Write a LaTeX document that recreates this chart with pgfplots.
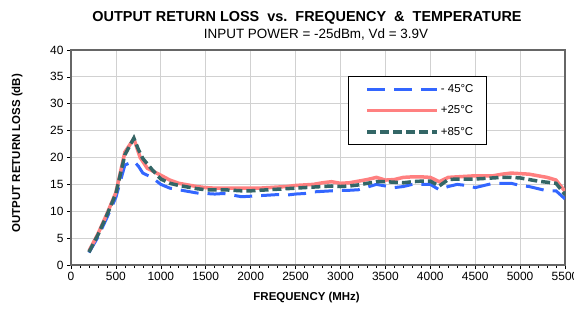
\documentclass[border=0pt]{standalone}
\usepackage{pgfplots}
\pgfplotsset{compat=1.18}
\usepackage{fontspec}
\setmainfont{Liberation Sans}
\definecolor{cblue}{RGB}{51,102,255}
\definecolor{cred}{RGB}{255,128,128}
\definecolor{cgreen}{RGB}{51,102,102}
\begin{document}
\begin{tikzpicture}
\begin{axis}[name=ax, scale only axis, width=494bp, height=215bp,
  xmin=0, xmax=5500, ymin=0, ymax=40,
  xtick={0,500,...,5500}, ytick={0,5,...,40},
  minor x tick num=4,
  grid=major, major grid style={color=black!18, line width=0.8bp},
  axis line style={black!60, line width=1.4bp},
  tick align=outside, xtick pos=bottom, ytick pos=left,
  major tick length=4bp, minor tick length=3bp,
  every tick/.style={black, line width=0.6bp},
  scaled x ticks=false,
  /pgf/number format/set thousands separator={},
  /pgf/number format/assume math mode=true,
  tick label style={font=\fontsize{12}{14}\selectfont},
  xlabel={\textbf{FREQUENCY (MHz)}},
  ylabel={\textbf{OUTPUT RETURN LOSS (dB)}},
  label style={font=\fontsize{11.5}{14}\selectfont},
  xlabel style={at={(axis description cs:0.477,-0.153)}, anchor=center},
  ylabel style={at={(axis description cs:-0.109,0.52)}, anchor=center},
  legend style={at={(0.561,0.879)}, anchor=north west, draw=black, line width=0.6bp,
    font=\fontsize{11.5}{13}\selectfont, row sep=8bp, inner xsep=11bp, inner ysep=6bp},
  legend cell align=left,
  legend image code/.code={\path (-6bp,0bp); \draw[#1] (0bp,0bp) -- (70bp,0bp);},
]
\addplot[cblue, line width=3bp, dash pattern=on 18bp off 9bp] coordinates {
(200,2.3)(300,5.2)(400,8.8)(500,12.6)(600,18.6)(700,19.3)(750,18.4)(800,17.1)(900,16.3)
(1000,15.0)(1100,14.3)(1200,14.0)(1300,13.7)(1400,13.4)(1500,13.3)(1600,13.2)(1700,13.3)
(1800,13.0)(1900,12.7)(2000,12.8)(2100,12.9)(2200,13.0)(2300,13.1)(2400,13.0)(2500,13.2)
(2600,13.3)(2700,13.6)(2800,13.7)(2900,13.8)(3000,13.9)(3100,13.9)(3200,14.0)(3300,14.5)
(3400,15.0)(3500,14.7)(3600,14.4)(3700,14.6)(3800,15.0)(3900,15.0)(4000,15.0)(4100,14.0)
(4200,14.6)(4300,15.0)(4400,14.8)(4500,14.4)(4600,14.8)(4700,15.2)(4800,15.2)(4900,15.2)
(5000,14.8)(5100,14.6)(5200,14.2)(5300,13.8)(5400,13.8)(5500,12.3)};
\addlegendentry{- 45°C}
\addplot[cred, line width=3.5bp] coordinates {
(200,2.6)(300,5.8)(400,9.5)(500,13.5)(600,21.0)(700,23.5)(770,20.0)(850,18.0)(1000,16.7)
(1100,15.8)(1200,15.2)(1300,14.9)(1400,14.6)(1500,14.4)(1600,14.3)(1700,14.3)(1800,14.3)
(1900,14.3)(2000,14.3)(2100,14.3)(2200,14.4)(2300,14.5)(2400,14.6)(2500,14.8)(2600,14.9)
(2700,15.0)(2800,15.3)(2900,15.5)(3000,15.2)(3100,15.3)(3200,15.6)(3300,15.9)(3400,16.3)
(3500,15.8)(3600,15.9)(3700,16.3)(3800,16.4)(3900,16.4)(4000,16.3)(4100,15.5)(4200,16.3)
(4300,16.4)(4400,16.5)(4500,16.6)(4600,16.6)(4700,16.6)(4800,16.9)(4900,17.1)(5000,17.0)
(5100,16.9)(5200,16.6)(5300,16.3)(5400,15.8)(5500,13.7)};
\addlegendentry{+25°C}
\addplot[cgreen, line width=3.5bp, dash pattern=on 9bp off 4bp] coordinates {
(200,2.4)(300,5.6)(400,9.3)(500,13.3)(600,20.5)(700,23.6)(750,21.5)(800,19.8)(900,17.8)
(1000,16.0)(1100,15.2)(1200,14.8)(1300,14.5)(1400,14.2)(1500,14.0)(1600,14.0)(1700,14.0)
(1800,13.9)(1900,13.8)(2000,13.8)(2100,13.9)(2200,14.0)(2300,14.1)(2400,14.2)(2500,14.3)
(2600,14.4)(2700,14.5)(2800,14.6)(2900,14.7)(3000,14.6)(3100,14.7)(3200,14.9)(3300,15.2)
(3400,15.5)(3500,15.5)(3600,15.4)(3700,15.3)(3800,15.5)(3900,15.6)(4000,15.6)(4100,14.7)
(4200,15.9)(4300,16.0)(4400,16.0)(4500,16.0)(4600,16.1)(4700,16.2)(4800,16.3)(4900,16.3)
(5000,16.2)(5100,15.9)(5200,15.6)(5300,15.4)(5400,15.2)(5500,13.1)};
\addlegendentry{+85°C}
\end{axis}
\node[font=\bfseries\fontsize{14.5}{17}\selectfont] at ([xshift=-11bp,yshift=32bp]ax.north) {OUTPUT RETURN LOSS\ \ vs.\ \ FREQUENCY\ \ \&\ \ TEMPERATURE};
\node[font=\fontsize{13.5}{16}\selectfont] at ([xshift=-2bp,yshift=16bp]ax.north) {INPUT POWER = -25dBm, Vd = 3.9V};
\pgfresetboundingbox
\path[use as bounding box] ([xshift=-71bp,yshift=-45bp]ax.south west) rectangle ([xshift=9bp,yshift=50bp]ax.north east);
\end{tikzpicture}
\end{document}
